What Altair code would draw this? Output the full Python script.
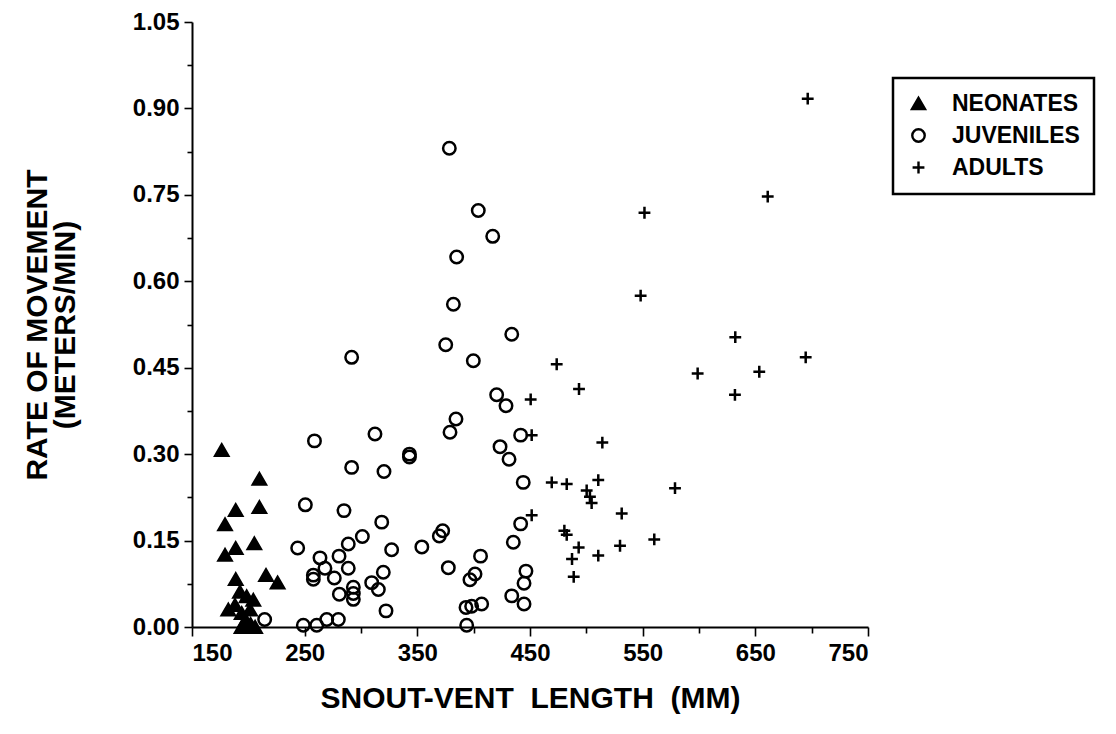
import altair as alt
import pandas as pd

groups = ["NEONATES", "JUVENILES", "ADULTS"]

neo_x = [176.4, 209.8, 188.8, 209.8, 179.3, 188.8, 205.3, 179.3, 188.8, 215.7, 226.0,
         192.6, 198.5, 204.4, 182.2, 188.2, 194.1, 201.5, 194.0, 200.0, 206.0, 197.0, 202.0]
neo_y = [0.307, 0.257, 0.203, 0.208, 0.178, 0.137, 0.145, 0.125, 0.083, 0.090, 0.077,
         0.061, 0.053, 0.047, 0.030, 0.038, 0.024, 0.030, 0.000, 0.000, 0.000, 0.010, 0.005]

juv_x = [214.5, 248.8, 260.7, 269.6, 279.9, 243.8, 250.6, 258.7, 263.6, 268.0, 257.7, 257.7,
         276.3, 280.5, 280.8, 284.9, 288.7, 288.7, 291.7, 291.7, 293.2, 293.2, 293.2, 301.2,
         309.5, 312.4, 315.4, 318.4, 319.8, 320.4, 322.2, 327.2, 343.0, 343.0, 354.0, 369.5,
         372.5, 375.2, 377.5, 378.4, 379.0, 382.0, 384.3, 384.9, 393.2, 393.8, 396.7, 398.2,
         399.7, 401.2, 404.1, 406.1, 407.1, 416.9, 420.4, 423.4, 428.7, 431.4, 433.8, 433.8,
         435.2, 441.7, 441.7, 444.0, 444.7, 444.7, 446.4]
juv_y = [0.013, 0.003, 0.003, 0.013, 0.013, 0.137, 0.212, 0.323, 0.120, 0.102, 0.090, 0.083,
         0.085, 0.123, 0.057, 0.202, 0.144, 0.102, 0.468, 0.277, 0.069, 0.058, 0.048, 0.157,
         0.077, 0.335, 0.065, 0.182, 0.095, 0.270, 0.028, 0.134, 0.300, 0.295, 0.139, 0.158,
         0.167, 0.490, 0.103, 0.831, 0.338, 0.560, 0.361, 0.642, 0.034, 0.003, 0.082, 0.036,
         0.462, 0.092, 0.723, 0.123, 0.040, 0.678, 0.403, 0.313, 0.384, 0.291, 0.508, 0.054,
         0.147, 0.333, 0.179, 0.251, 0.076, 0.040, 0.097]

adu_x = [696.5, 661.0, 551.6, 548.2, 632.2, 694.7, 473.7, 598.8, 653.5, 631.9, 493.5, 450.6,
         451.5, 514.2, 469.3, 482.6, 510.6, 500.3, 503.2, 504.7, 578.7, 451.5, 531.4, 480.5,
         482.6, 493.2, 510.6, 529.9, 560.3, 487.3, 488.8]
adu_y = [0.917, 0.747, 0.719, 0.575, 0.503, 0.468, 0.456, 0.440, 0.443, 0.403, 0.413, 0.395,
         0.333, 0.320, 0.251, 0.248, 0.255, 0.237, 0.226, 0.215, 0.241, 0.194, 0.197, 0.167,
         0.160, 0.138, 0.124, 0.141, 0.152, 0.118, 0.087]

x_ticks = list(range(150, 751, 50))
y_ticks = [round(i * 0.075, 3) for i in range(15)]

rows = []
for g, xs, ys in [("JUVENILES", juv_x, juv_y), ("NEONATES", neo_x, neo_y), ("ADULTS", adu_x, adu_y)]:
    for a, b in zip(xs, ys):
        rows.append({"svl": a, "rate": b, "group": g})
df = pd.DataFrame(rows)

FONT = "Liberation Sans"

x_major = "(datum.value - 150) % 100 == 0"
y_major = "round(datum.value * 1000) % 150 == 0"

chart = alt.Chart(df).mark_point(
    strokeWidth=2.5, opacity=1, fillOpacity=1, strokeOpacity=1
).encode(
    x=alt.X("svl:Q",
            scale=alt.Scale(domain=[150, 750], nice=False, zero=False),
            axis=alt.Axis(values=x_ticks,
                          title="SNOUT-VENT\u00a0\u00a0LENGTH\u00a0\u00a0(MM)",
                          labelExpr=f"{x_major} ? datum.label : ''",
                          tickSize=alt.condition(x_major, alt.value(9), alt.value(6)),
                          titlePadding=18)),
    y=alt.Y("rate:Q",
            scale=alt.Scale(domain=[0, 1.05], nice=False, zero=True),
            axis=alt.Axis(values=y_ticks, format=".2f",
                          title=["RATE OF MOVEMENT", "(METERS/MIN)"],
                          labelExpr=f"{y_major} ? datum.label : ''",
                          tickSize=alt.condition(y_major, alt.value(8), alt.value(5)),
                          titleLineHeight=28, titlePadding=52)),
    shape=alt.Shape("group:N",
                    scale=alt.Scale(domain=groups,
                                    range=["triangle-up", "circle", "M-1,0L1,0M0,-1L0,1"]),
                    legend=alt.Legend(title=None)),
    fill=alt.Fill("group:N",
                  scale=alt.Scale(domain=groups, range=["black", "transparent", "transparent"]),
                  legend=alt.Legend(title=None)),
    stroke=alt.Stroke("group:N",
                      scale=alt.Scale(domain=groups, range=["black", "black", "black"]),
                      legend=alt.Legend(title=None)),
    size=alt.Size("group:N",
                  scale=alt.Scale(domain=groups, range=[170, 140, 250]),
                  legend=alt.Legend(title=None)),
).properties(
    width=676, height=605,
    autosize=alt.AutoSizeParams(type="none"),
    padding={"left": 192, "top": 22, "right": 248, "bottom": 107},
).configure_view(
    stroke=None
).configure_axis(
    grid=False,
    domainColor="black", domainWidth=2,
    tickColor="black", tickWidth=1.6,
    labelFont=FONT, labelFontSize=24, labelFontWeight="bold", labelColor="black",
    labelPadding=5,
    titleFont=FONT, titleFontSize=30, titleFontWeight="bold", titleColor="black",
).configure_legend(
    orient="none", legendX=701, legendY=56,
    strokeColor="black", strokeWidth=2.5, padding=14,
    rowPadding=8, labelFont=FONT, labelFontSize=23, labelFontWeight="bold",
    labelColor="black", labelOffset=22, symbolStrokeWidth=2.4,
)

chart.save("out.html", embed_options={"renderer": "svg", "actions": False})
